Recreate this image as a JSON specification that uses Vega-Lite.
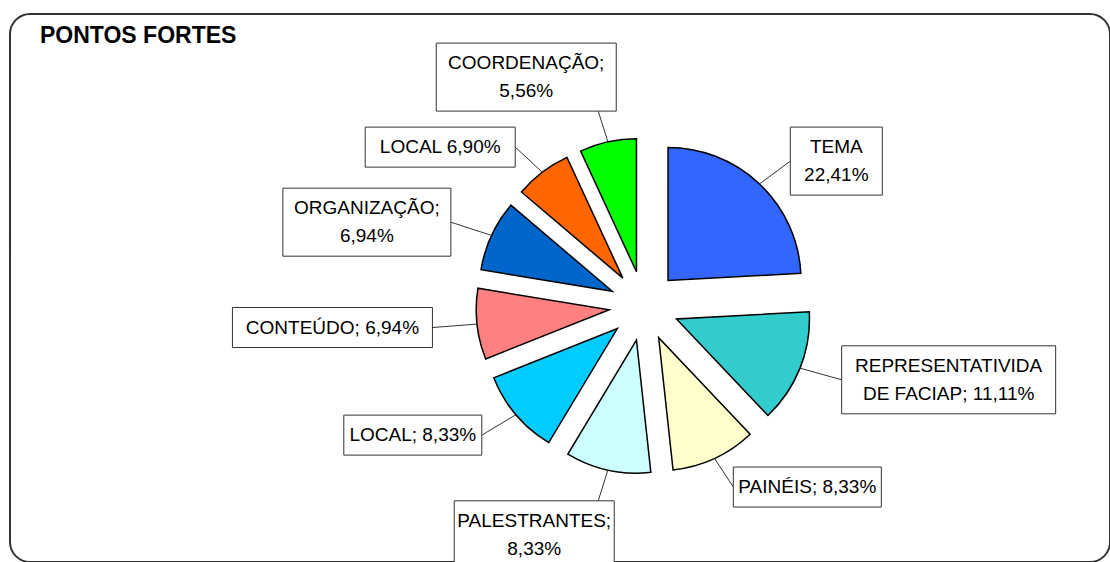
{
  "$schema": "https://vega.github.io/schema/vega-lite/v6.json",
  "width": 1100,
  "height": 548,
  "autosize": {"type": "none"},
  "padding": {"left": 10, "top": 14, "right": 0, "bottom": 0},
  "background": "white",
  "config": {
    "view": {"stroke": "#333333", "strokeWidth": 2, "cornerRadius": 20},
    "font": "Liberation Sans"
  },
  "title": {
    "text": "PONTOS FORTES",
    "anchor": "start",
    "frame": "group",
    "orient": "top",
    "offset": -29,
    "dx": 30,
    "dy": 23,
    "baseline": "alphabetic",
    "font": "Liberation Sans",
    "fontSize": 23,
    "fontWeight": "bold",
    "color": "black"
  },
  "data": {
    "values": [
      {"ordem": 1, "categoria": "TEMA", "percentual": 22.41, "n": 14, "rotulo": ["TEMA", "22,41%"]},
      {"ordem": 2, "categoria": "REPRESENTATIVIDADE DE FACIAP", "percentual": 11.11, "n": 8, "rotulo": ["REPRESENTATIVIDA", "DE FACIAP; 11,11%"]},
      {"ordem": 3, "categoria": "PAINÉIS", "percentual": 8.33, "n": 6, "rotulo": ["PAINÉIS; 8,33%"]},
      {"ordem": 4, "categoria": "PALESTRANTES", "percentual": 8.33, "n": 6, "rotulo": ["PALESTRANTES;", "8,33%"]},
      {"ordem": 5, "categoria": "LOCAL", "percentual": 8.33, "n": 6, "rotulo": ["LOCAL; 8,33%"]},
      {"ordem": 6, "categoria": "CONTEÚDO", "percentual": 6.94, "n": 5, "rotulo": ["CONTEÚDO; 6,94%"]},
      {"ordem": 7, "categoria": "ORGANIZAÇÃO", "percentual": 6.94, "n": 5, "rotulo": ["ORGANIZAÇÃO;", "6,94%"]},
      {"ordem": 8, "categoria": "LOCAL", "percentual": 6.90, "n": 4, "rotulo": ["LOCAL 6,90%"]},
      {"ordem": 9, "categoria": "COORDENAÇÃO", "percentual": 5.56, "n": 4, "rotulo": ["COORDENAÇÃO;", "5,56%"]}
    ]
  },
  "transform": [
    {"window": [{"op": "sum", "field": "n", "as": "acum"}], "sort": [{"field": "ordem"}], "frame": [null, 0]},
    {"joinaggregate": [{"op": "sum", "field": "n", "as": "total"}]},
    {"calculate": "2*PI*(datum.acum - datum.n)/datum.total", "as": "t0"},
    {"calculate": "2*PI*datum.acum/datum.total", "as": "t1"},
    {"calculate": "(datum.t0 + datum.t1)/2", "as": "meio"},
    {"calculate": "sin(datum.meio)", "as": "ux"},
    {"calculate": "-cos(datum.meio)", "as": "uy"},
    {"calculate": "0.263*datum.ux", "as": "cx"},
    {"calculate": "0.263*datum.uy", "as": "cy"},
    {"calculate": "1.263*datum.ux", "as": "bordaX"},
    {"calculate": "1.263*datum.uy", "as": "bordaY"},
    {"calculate": "1.6*datum.ux", "as": "ancX"},
    {"calculate": "1.5*datum.uy", "as": "ancY"},
    {"calculate": "datum.ux > 0.35 ? 1 : (datum.ux < -0.35 ? -1 : 0)", "as": "lado"},
    {"calculate": "[92,214,148,160,138,200,168,150,180][datum.ordem-1]/133", "as": "larg"},
    {"calculate": "(length(datum.rotulo)*28+12)/133", "as": "alt"},
    {"calculate": "datum.ancX + (datum.lado != 0 ? datum.lado*datum.larg/2 : (datum.ux < 0 ? -1 : 1)*0.4*datum.larg)", "as": "boxX"},
    {"calculate": "datum.ancY + (datum.lado == 0 ? (datum.uy > 0 ? 1 : -1)*datum.alt/2 : 0)", "as": "boxY"},
    {"calculate": "datum.boxY - (length(datum.rotulo) - 1)*14/133", "as": "textoY"},
    {"calculate": "datum.boxX - datum.larg/2", "as": "bx1"},
    {"calculate": "datum.boxX + datum.larg/2", "as": "bx2"},
    {"calculate": "datum.boxY - datum.alt/2", "as": "by1"},
    {"calculate": "datum.boxY + datum.alt/2", "as": "by2"}
  ],
  "layer": [
    {
      "mark": {"type": "arc", "radius": 133, "stroke": "black", "strokeWidth": 1.5},
      "encoding": {
        "theta": {"field": "t0", "type": "quantitative", "scale": null, "stack": null},
        "theta2": {"field": "t1"},
        "x": {"field": "cx", "type": "quantitative", "scale": {"domain": [-4.767, 3.504], "nice": false, "zero": false}, "axis": null},
        "y": {"field": "cy", "type": "quantitative", "scale": {"domain": [-2.195, 1.925], "reverse": true, "nice": false, "zero": false}, "axis": null},
        "color": {
          "field": "ordem",
          "type": "nominal",
          "scale": {"domain": [1, 2, 3, 4, 5, 6, 7, 8, 9], "range": ["#3366FF", "#33CCCC", "#FFFFCC", "#CCFFFF", "#00CCFF", "#FF8080", "#0066CC", "#FF6600", "#00FF00"]},
          "legend": null
        }
      }
    },
    {
      "mark": {"type": "rule", "stroke": "#333333", "strokeWidth": 1},
      "encoding": {
        "x": {"field": "bordaX", "type": "quantitative"},
        "y": {"field": "bordaY", "type": "quantitative"},
        "x2": {"field": "ancX"},
        "y2": {"field": "ancY"}
      }
    },
    {
      "mark": {"type": "rect", "fill": "white", "stroke": "#333333", "strokeWidth": 1},
      "encoding": {
        "x": {"field": "bx1", "type": "quantitative"},
        "x2": {"field": "bx2"},
        "y": {"field": "by1", "type": "quantitative"},
        "y2": {"field": "by2"}
      }
    },
    {
      "mark": {"type": "text", "font": "Liberation Sans", "fontSize": 19, "lineHeight": 28, "align": "center", "baseline": "middle", "color": "black"},
      "encoding": {
        "x": {"field": "boxX", "type": "quantitative"},
        "y": {"field": "textoY", "type": "quantitative"},
        "text": {"field": "rotulo", "type": "nominal"}
      }
    }
  ]
}
